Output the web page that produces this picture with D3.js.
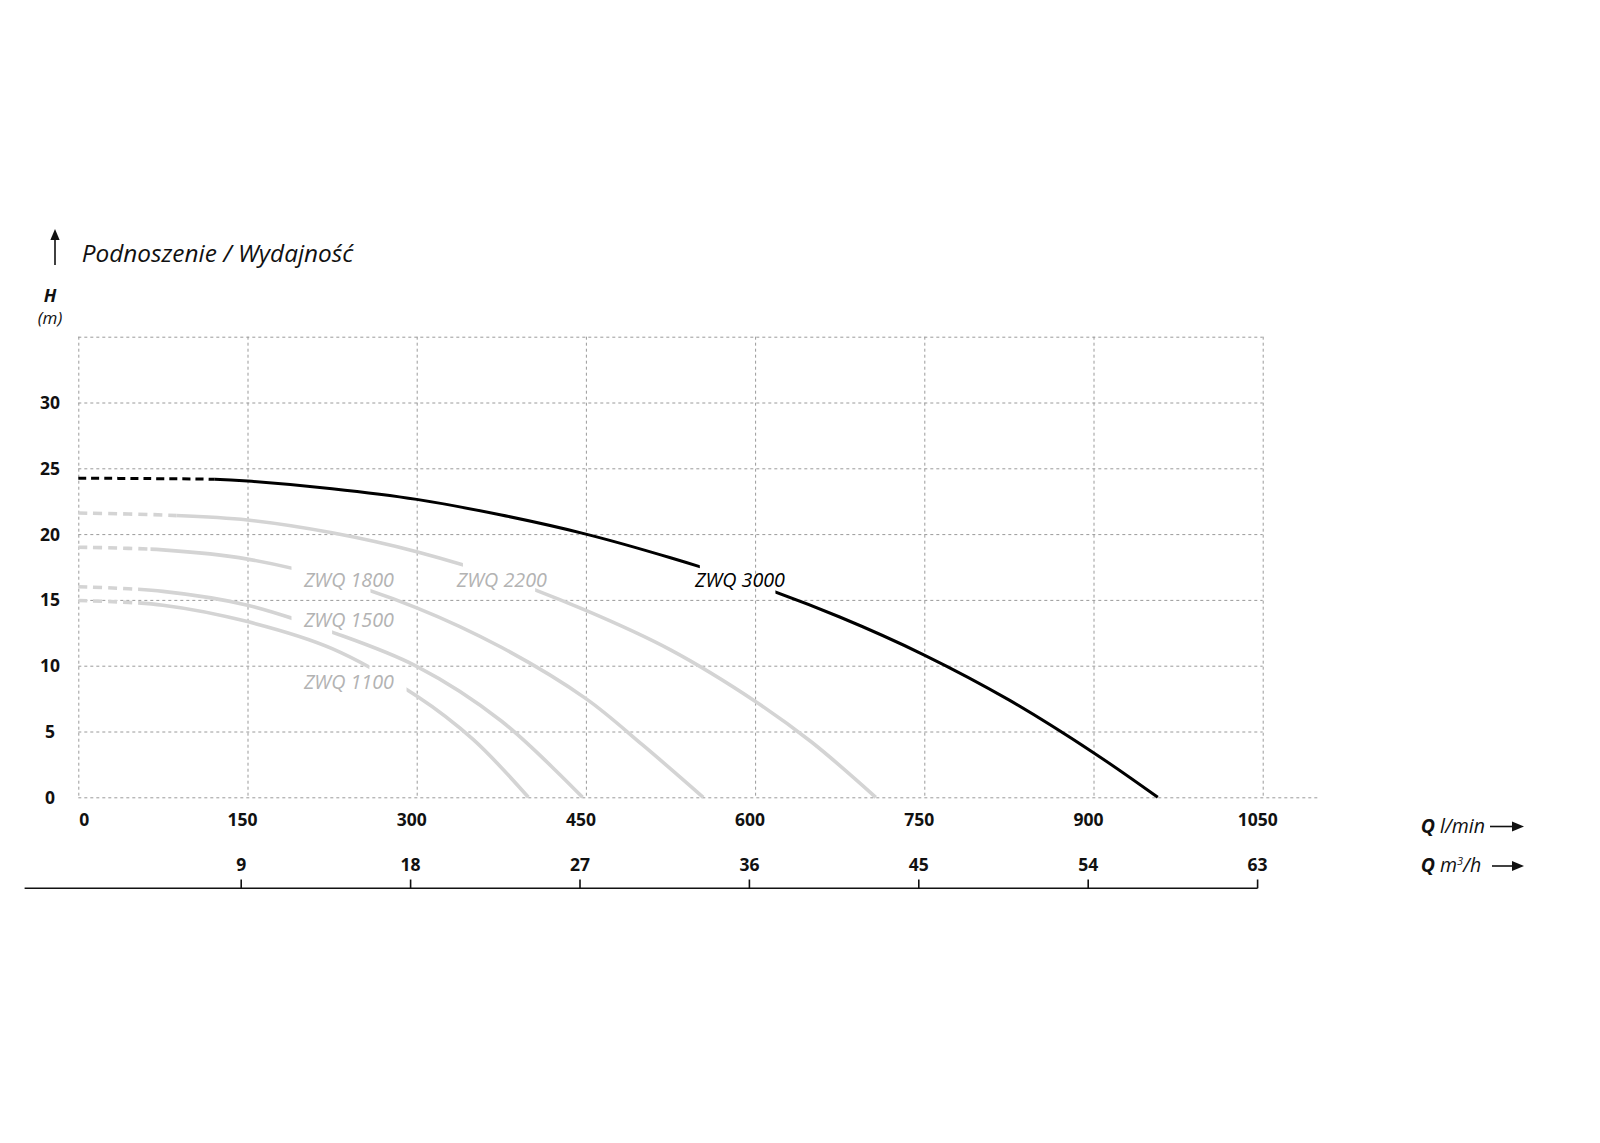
<!DOCTYPE html>
<html>
<head>
<meta charset="utf-8">
<script src="https://cdn.jsdelivr.net/npm/d3@7"></script>
<style>
  html, body { margin: 0; padding: 0; background: #fff; }
  svg { display: block; }
  text { font-family: "Open Sans", "Noto Sans", sans-serif; }
</style>
</head>
<body>
<script>
// ---------------- data ----------------
const qTicks = [0, 150, 300, 450, 600, 750, 900, 1050];       // l/min
const hTicks = [0, 5, 10, 15, 20, 25, 30];                   // m
const m3Ticks = [9, 18, 27, 36, 45, 54, 63];                 // m3/h
const models = ["ZWQ 1100", "ZWQ 1500", "ZWQ 1800", "ZWQ 2200", "ZWQ 3000"];

const zwq1100 = [[0, 14.95], [75, 14.6], [150, 13.35], [225, 11.3], [300, 7.7], [350, 4.4], [399, 0]];
const zwq1500 = [[0, 16.0], [75, 15.65], [150, 14.6], [225, 12.55], [300, 9.95], [375, 5.8], [447, 0]];
const zwq1800 = [[0, 19.0], [75, 18.8], [150, 18.1], [225, 16.6], [300, 14.4], [375, 11.4], [450, 7.5], [500, 4.0], [554, 0]];
const zwq2200 = [[0, 21.6], [75, 21.45], [150, 21.07], [225, 20.1], [300, 18.66], [375, 16.7], [450, 14.2], [525, 11.2], [600, 7.3], [650, 4.2], [707, 0]];
const zwq3000 = [[0, 24.25], [60, 24.22], [121, 24.16], [150, 24.03], [225, 23.45], [300, 22.64], [375, 21.45], [450, 20.0], [525, 18.2], [600, 16.15], [675, 13.7], [750, 10.81], [825, 7.4], [900, 3.39], [957, 0]];
const curves = [zwq1100, zwq1500, zwq1800, zwq2200, zwq3000];

// flow up to which each curve is dashed, and flow range left open for its label
const dashEnd  = [53, 53, 64, 87, 121];
const gapStart = [258, 189, 189, 341, 551];
const gapEnd   = [291, 225, 259, 405, 618];
// label anchor (flow at label start, head at baseline)
const labelQ = [200, 200, 200, 335.6, 546.7];
const labelH = [8.23, 12.94, 16.0, 16.0, 16.0];

// ---------------- layout ----------------
const W = 1600, H = 1143;
const svg = d3.select("body").append("svg").attr("width", W).attr("height", H);

const x = d3.scaleLinear().domain([0, 1050]).range([78.3, 1262.7]);
const y = d3.scaleLinear().domain([0, 35]).range([797.3, 336.7]);
const xm = d3.scaleLinear().domain([0, 63]).range([71.8, 1257.6]);

const gridColor = "#9a9a9a";
const grayCurve = "#d4d4d4";
const grayText = "#b3b3b3";

// grid
const grid = svg.append("g").attr("stroke", gridColor).attr("stroke-width", 1).attr("stroke-dasharray", "3,3").attr("fill", "none");
grid.selectAll("line.v").data(qTicks).join("line")
  .attr("x1", d => x(d) + 0.5).attr("x2", d => x(d) + 0.5)
  .attr("y1", y(35)).attr("y2", y(0));
grid.selectAll("line.h").data(hTicks.concat([35])).join("line")
  .attr("x1", x(0)).attr("x2", d => d === 0 ? 1319 : x(1050))
  .attr("y1", d => y(d) + 0.5).attr("y2", d => y(d) + 0.5);

// y tick labels
svg.append("g").selectAll("text").data(hTicks).join("text")
  .attr("x", 50).attr("y", d => y(d) + 6.5)
  .attr("text-anchor", "middle")
  .attr("font-size", 17.5).attr("font-weight", 700).attr("fill", "#111")
  .text(d => d);

// x tick labels (l/min)
svg.append("g").selectAll("text").data(qTicks).join("text")
  .attr("x", d => d === 0 ? x(d) + 1 : x(d) - 5)
  .attr("y", 825.5)
  .attr("text-anchor", d => d === 0 ? "start" : "middle")
  .attr("font-size", 17.5).attr("font-weight", 700).attr("fill", "#111")
  .text(d => d);

// second axis (m3/h)
const ax2 = svg.append("g");
ax2.append("line").attr("x1", 24.6).attr("x2", xm(63)).attr("y1", 888.3).attr("y2", 888.3)
  .attr("stroke", "#111").attr("stroke-width", 1.6);
ax2.selectAll("line.t").data(m3Ticks).join("line")
  .attr("x1", d => xm(d)).attr("x2", d => xm(d)).attr("y1", 879.5).attr("y2", 888.3)
  .attr("stroke", "#111").attr("stroke-width", 1.6);
ax2.selectAll("text").data(m3Ticks).join("text")
  .attr("x", d => xm(d)).attr("y", 871)
  .attr("text-anchor", "middle")
  .attr("font-size", 17.5).attr("font-weight", 700).attr("fill", "#111")
  .text(d => d);

// curves
const defs = svg.append("defs");
const line = d3.line().x(d => x(d[0])).y(d => y(d[1])).curve(d3.curveCatmullRom.alpha(0.5));
const curveG = svg.append("g");
curves.forEach((data, i) => {
  const isMain = i === 4;
  const color = isMain ? "#000" : grayCurve;
  const sw = isMain ? 3 : 3.6;
  const segs = [
    {x0: 0, x1: x(dashEnd[i]), dash: isMain ? "8,5" : "9,6"},
    {x0: x(dashEnd[i]), x1: x(gapStart[i]), dash: null},
    {x0: x(gapEnd[i]), x1: W, dash: null}
  ];
  segs.forEach((s, j) => {
    const id = `clip-${i}-${j}`;
    defs.append("clipPath").attr("id", id).append("rect")
      .attr("x", s.x0).attr("y", 0).attr("width", s.x1 - s.x0).attr("height", y(0) + 6);
    curveG.append("path").datum(data)
      .attr("d", line)
      .attr("fill", "none").attr("stroke", color).attr("stroke-width", sw)
      .attr("stroke-dasharray", s.dash)
      .attr("clip-path", `url(#${id})`);
  });
});

// curve labels
svg.append("g").selectAll("text").data(models).join("text")
  .attr("x", (d, i) => x(labelQ[i]))
  .attr("y", (d, i) => y(labelH[i]))
  .attr("font-size", 19.5).attr("font-style", "italic")
  .attr("fill", (d, i) => i === 4 ? "#000" : grayText)
  .attr("textLength", 90).attr("lengthAdjust", "spacingAndGlyphs")
  .text(d => d);

// arrow helper
function arrow(x1, y1, x2, y2, head) {
  const g = svg.append("g");
  const ang = Math.atan2(y2 - y1, x2 - x1);
  const bx = x2 - head * Math.cos(ang), by = y2 - head * Math.sin(ang);
  g.append("line").attr("x1", x1).attr("y1", y1).attr("x2", bx).attr("y2", by)
    .attr("stroke", "#111").attr("stroke-width", 1.6);
  const w = head * 0.42;
  const px = -Math.sin(ang) * w, py = Math.cos(ang) * w;
  g.append("path").attr("d", `M${x2},${y2}L${bx + px},${by + py}L${bx - px},${by - py}Z`).attr("fill", "#111");
}

// title & y label
arrow(55, 265, 55, 229, 11);
svg.append("text").attr("x", 81.7).attr("y", 262.3)
  .attr("font-size", 23.5).attr("font-style", "italic").attr("fill", "#111")
  .attr("textLength", 271.7).attr("lengthAdjust", "spacingAndGlyphs")
  .text("Podnoszenie / Wydajność");
svg.append("text").attr("x", 50).attr("y", 302).attr("text-anchor", "middle")
  .attr("font-size", 18).attr("font-weight", 700).attr("font-style", "italic").attr("fill", "#111")
  .text("H");
svg.append("text").attr("x", 50).attr("y", 323.5).attr("text-anchor", "middle")
  .attr("font-size", 17).attr("font-style", "italic").attr("fill", "#111")
  .text("(m)");

// x unit labels
const u1 = svg.append("text").attr("x", 1420.7).attr("y", 832.5).attr("font-size", 19.5).attr("font-style", "italic").attr("fill", "#111");
u1.append("tspan").attr("font-weight", 700).text("Q");
u1.append("tspan").text(" l/min");
arrow(1490, 826.5, 1524, 826.5, 12);

const u2 = svg.append("text").attr("x", 1420.7).attr("y", 871.5).attr("font-size", 19.5).attr("font-style", "italic").attr("fill", "#111");
u2.append("tspan").attr("font-weight", 700).text("Q");
u2.append("tspan").text(" m");
u2.append("tspan").attr("font-size", 11).attr("dy", -7).text("3");
u2.append("tspan").attr("dy", 7).text("/h");
arrow(1492, 866, 1524, 866, 12);
</script>
</body>
</html>
